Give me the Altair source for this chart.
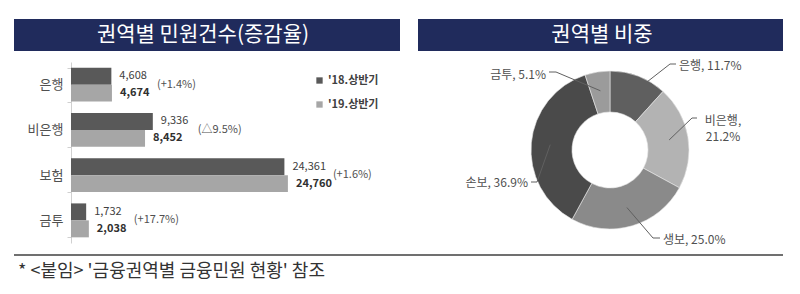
import altair as alt
import pandas as pd
import numpy as np

FONT = "Noto Sans CJK KR"

# ---------------- data ----------------
categories = ["은행", "비은행", "보험", "금투"]
periods = ["'18.상반기", "'19.상반기"]
values_18 = [4608, 9336, 24361, 1732]
values_19 = [4674, 8452, 24760, 2038]
change_labels = ["(+1.4%)", "(△9.5%)", "(+1.6%)", "(+17.7%)"]

share_categories = ["은행", "비은행", "생보", "손보", "금투"]
share_values = [11.7, 21.2, 25.0, 36.9, 5.1]

left_title = "권역별 민원건수(증감율)"
right_title = "권역별 비중"
footer = "* <붙임> '금융권역별 금융민원 현황' 참조"

# ---------------- styles / layout ----------------
bar_colors = ["#595959", "#a6a6a6"]
share_colors = ["#5f5f5f", "#b3b3b3", "#8a8a8a", "#4a4a4a", "#9b9b9b"]
NAVY = "#202b5c"
TXT = "#505050"

# donut layout
CX, CY, R_OUT, R_IN, R_LEAD = 610, 150, 79, 38, 60
# per-slice label layout: elbow point, line end, text anchor, align
label_elbow = [(670, 64), (692, 118), (653, 238), (537, 182), (556, 72)]
label_end = [(676, 64), (697, 118), (660, 238), (531, 182), (549, 72)]
label_anchor = [(679, 66), (723, 121), (663, 240), (528, 183), (546, 75)]
label_align = ["left", "center", "left", "right", "right"]

# ---------------- tables ----------------
bar_rows = []
for c, a, b in zip(categories, values_18, values_19):
    bar_rows.append({"category": c, "period": periods[0], "value": a, "label": f"{a:,}"})
    bar_rows.append({"category": c, "period": periods[1], "value": b, "label": f"{b:,}"})
bar_df = pd.DataFrame(bar_rows)

pct_df = pd.DataFrame({
    "category": categories,
    "value": [max(a, b) for a, b in zip(values_18, values_19)],
    "label": change_labels,
})

share_df = pd.DataFrame({"cat": share_categories, "val": share_values,
                         "idx": list(range(len(share_values)))})

cum = np.cumsum(share_values)
total = cum[-1]
mid = (cum - np.array(share_values) / 2) / total * 2 * np.pi
start_x = CX + R_LEAD * np.sin(mid)
start_y = CY - R_LEAD * np.cos(mid)

lead_rows = []
for i, c in enumerate(share_categories):
    pts = [(start_x[i], start_y[i]), label_elbow[i], label_end[i]]
    for k, (px, py) in enumerate(pts):
        lead_rows.append({"cat": c, "pt": k, "px": float(px), "py": float(py)})
lead_df = pd.DataFrame(lead_rows)

lab_rows = []
for i, c in enumerate(share_categories):
    sep = ",\n" if label_align[i] == "center" else ", "
    lab_rows.append({"cat": c, "text": f"{c}{sep}{share_values[i]:.1f}%",
                     "lx": label_anchor[i][0], "ly": label_anchor[i][1],
                     "align": label_align[i]})
lab_df = pd.DataFrame(lab_rows)

one = pd.DataFrame({"a": [0]})

# ---------------- encodings ----------------
def y_enc(axis=None):
    return alt.Y("category:N", sort=categories,
                 scale=alt.Scale(domain=categories, range=[62, 243],
                                 paddingInner=0.25, paddingOuter=0.125),
                 axis=axis)

x_enc = alt.X("value:Q", scale=alt.Scale(domain=[0, 25000], range=[71, 290]), axis=None)
yoff = alt.YOffset("period:N", sort=periods,
                   scale=alt.Scale(domain=periods, paddingInner=0, paddingOuter=0))

# ---------------- layers ----------------
title_l_bg = alt.Chart(one).mark_rect(color=NAVY).encode(
    x=alt.value(14), x2=alt.value(400), y=alt.value(19), y2=alt.value(51))
title_r_bg = alt.Chart(one).mark_rect(color=NAVY).encode(
    x=alt.value(418), x2=alt.value(783), y=alt.value(19), y2=alt.value(51))
title_l = alt.Chart(one).mark_text(font=FONT, fontSize=21, color="white", align="center",
                                   baseline="middle").encode(
    x=alt.value(203), y=alt.value(35), text=alt.value(left_title))
title_r = alt.Chart(one).mark_text(font=FONT, fontSize=21, color="white", align="center",
                                   baseline="middle").encode(
    x=alt.value(602), y=alt.value(35), text=alt.value(right_title))

bars = alt.Chart(bar_df).mark_bar().encode(
    x=x_enc,
    y=y_enc(alt.Axis(title=None, offset=-71, tickBand="extent", tickSize=4,
                     tickColor="#d0d0d0", domainColor="#d0d0d0", labelFont=FONT,
                     labelFontSize=13, labelColor=TXT, labelPadding=4)),
    yOffset=yoff,
    color=alt.Color("period:N", sort=periods,
                    scale=alt.Scale(domain=periods, range=bar_colors),
                    legend=alt.Legend(orient="none", legendX=314, legendY=75, title=None,
                                      symbolType="square", symbolSize=40,
                                      symbolStrokeWidth=0, labelFont=FONT,
                                      labelFontSize=11, labelFontWeight="bold",
                                      labelColor="#404040", rowPadding=12, padding=0,
                                      labelOffset=3)),
)

val18 = alt.Chart(bar_df).transform_filter(alt.datum.period == periods[0]).mark_text(
    font=FONT, fontSize=11, color="#404040", align="left", baseline="middle", dx=8).encode(
    x=x_enc, y=y_enc(), yOffset=yoff, text="label:N")
val19 = alt.Chart(bar_df).transform_filter(alt.datum.period == periods[1]).mark_text(
    font=FONT, fontSize=11, fontWeight="bold", color="#303030", align="left",
    baseline="middle", dx=8).encode(
    x=x_enc, y=y_enc(), yOffset=yoff, text="label:N")
pct = alt.Chart(pct_df).mark_text(font=FONT, fontSize=11, color=TXT, align="left",
                                  baseline="middle", dx=45).encode(
    x=x_enc, y=y_enc(), text="label:N")

donut = alt.Chart(share_df).mark_arc(outerRadius=R_OUT, innerRadius=R_IN,
                                     stroke="#e8e8e8", strokeWidth=0.6).encode(
    theta=alt.Theta("val:Q", stack=True),
    color=alt.Color("cat:N", scale=alt.Scale(domain=share_categories, range=share_colors),
                    legend=None),
    order=alt.Order("idx:Q"),
    x=alt.value(CX), y=alt.value(CY),
)

leads = alt.Chart(lead_df).mark_line(color="#606060", strokeWidth=1).encode(
    x=alt.X("px:Q", scale=None), y=alt.Y("py:Q", scale=None),
    detail="cat:N", order=alt.Order("pt:Q"))

lab_layers = []
for al in ["left", "center", "right"]:
    lab_layers.append(
        alt.Chart(lab_df).transform_filter(alt.datum.align == al).mark_text(
            font=FONT, fontSize=12, color=TXT, align=al, baseline="middle",
            lineBreak="\n", lineHeight=16).encode(
            x=alt.X("lx:Q", scale=None), y=alt.Y("ly:Q", scale=None), text="text:N"))

foot_line = alt.Chart(one).mark_rule(color="#404040", strokeWidth=1.5).encode(
    x=alt.value(14), x2=alt.value(783), y=alt.value(255))
foot_text = alt.Chart(one).mark_text(font=FONT, fontSize=18, color="#333333", align="left",
                                     baseline="middle").encode(
    x=alt.value(18), y=alt.value(272), text=alt.value(footer))

chart = alt.layer(
    title_l_bg, title_r_bg, title_l, title_r,
    bars, val18, val19, pct,
    donut, leads, *lab_layers,
    foot_line, foot_text,
).resolve_scale(
    x="independent", y="independent", color="independent"
).properties(
    width=800, height=294, padding=0,
    autosize=alt.AutoSizeParams(type="none"),
    background="white",
).configure_view(stroke=None)

chart.save("out.html", embed_options={"renderer": "svg", "actions": False})
